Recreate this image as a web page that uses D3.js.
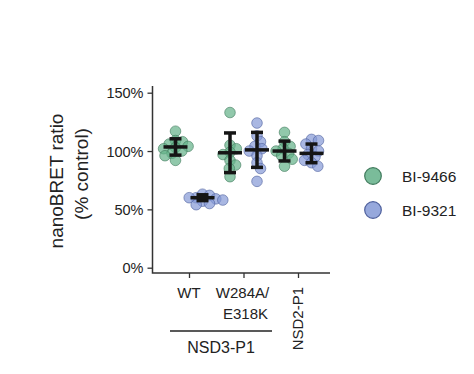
<!DOCTYPE html>
<html>
  <head>
    <meta charset="utf-8">
    <title>nanoBRET ratio</title>
    <script src="https://d3js.org/d3.v7.min.js"></script>
    <style>
      body { margin: 0; background: #fff; }
      text { font-family: "Liberation Sans", Arial, sans-serif; fill: #222; }
    </style>
  </head>
  <body>
    <svg id="chart" width="474" height="374"></svg>
    <script>
      // data
      var categories = ["WT", "W284A/E318K", "NSD2-P1"];
      var compounds = ["BI-9466", "BI-9321"];
      var yTicks = [0, 50, 100, 150];
      var greenValues = [
        [117, 109, 108, 106, 104, 103, 102, 100, 98, 96, 92],
        [133, 105, 102, 99, 97, 92, 88, 85, 78],
        [116, 108, 104, 102, 100, 98, 96, 93, 87]
      ];
      var blueValues = [
        [63, 62, 60, 60, 59, 58, 57, 55, 54],
        [124, 113, 108, 104, 102, 100, 96, 90, 85, 74],
        [110, 109, 106, 102, 100, 97, 95, 92, 90, 87]
      ];
      var greenMean = [103.5, 98.5, 100];
      var greenSd = [7, 17, 8.5];
      var blueMean = [60, 101, 98];
      var blueSd = [2.5, 15, 8];

      var colours = { "BI-9466": "#63b088", "BI-9321": "#8499d6" };
      var strokes = { "BI-9466": "#3f7a5c", "BI-9321": "#4d5f9c" };

      var svg = d3.select("#chart");
      var x = d3.scalePoint().domain(categories).range([189, 298]);
      var y = d3.scaleLinear().domain([0, 150]).range([267.7, 92.7]);
      var dodge = 13.5;
      var r = 5.3;

      // axes
      var yAxis = d3.axisLeft(y).tickValues(yTicks).tickSize(5)
        .tickFormat(function(d) { return d + "%"; });
      var yG = svg.append("g").attr("transform", "translate(152.5,0)").call(yAxis);
      yG.select(".domain").remove();
      yG.selectAll("line").attr("stroke", "#333").attr("stroke-width", 1.3);
      yG.selectAll("text").style("font-size", "14.5px").attr("x", -9).attr("dy", "0.36em");

      var xAxis = d3.axisBottom(x).tickSize(5).tickFormat("");
      var xG = svg.append("g").attr("transform", "translate(0,273)").call(xAxis);
      xG.select(".domain").remove();
      xG.selectAll("line").attr("stroke", "#333").attr("stroke-width", 1.3);

      svg.append("path")
        .attr("d", "M152.5,86V273H330")
        .attr("fill", "none").attr("stroke", "#333").attr("stroke-width", 1.5);

      // beeswarm placement, points may overlap a little
      function swarm(values, cx) {
        var placed = [];
        values.slice().sort(d3.descending).forEach(function(v) {
          var cy = y(v), best = null;
          for (var k = 0; k <= 30; k++) {
            var cands = k === 0 ? [0] : [k * 0.7, -k * 0.7];
            for (var c = 0; c < cands.length; c++) {
              var ok = placed.every(function(p) {
                var dx = p.x - (cx + cands[c]), dy = p.y - cy;
                return dx * dx + dy * dy >= 6.8 * 6.8;
              });
              if (ok) { best = cx + cands[c]; break; }
            }
            if (best !== null) break;
          }
          placed.push({ x: best === null ? cx : best, y: cy });
        });
        return placed;
      }

      var groups = [
        { name: "BI-9466", values: greenValues, mean: greenMean, sd: greenSd, off: -dodge },
        { name: "BI-9321", values: blueValues, mean: blueMean, sd: blueSd, off: dodge }
      ];

      groups.forEach(function(g) {
        categories.forEach(function(cat, i) {
          var cx = x(cat) + g.off;
          svg.append("g").selectAll("circle")
            .data(swarm(g.values[i], cx))
            .enter().append("circle")
              .attr("cx", function(d) { return d.x; })
              .attr("cy", function(d) { return d.y; })
              .attr("r", r)
              .attr("fill", colours[g.name])
              .attr("fill-opacity", 0.7)
              .attr("stroke", strokes[g.name])
              .attr("stroke-opacity", 0.6)
              .attr("stroke-width", 1);
        });
      });

      // mean and sd bars
      groups.forEach(function(g) {
        categories.forEach(function(cat, i) {
          var cx = x(cat) + g.off;
          var m = g.mean[i], s = g.sd[i];
          var eb = svg.append("g").attr("stroke", "#151515").attr("stroke-width", 3.5);
          eb.append("line").attr("x1", cx).attr("x2", cx).attr("y1", y(m + s)).attr("y2", y(m - s));
          eb.append("line").attr("x1", cx - 6).attr("x2", cx + 6).attr("y1", y(m + s)).attr("y2", y(m + s));
          eb.append("line").attr("x1", cx - 6).attr("x2", cx + 6).attr("y1", y(m - s)).attr("y2", y(m - s));
          eb.append("line").attr("x1", cx - 12).attr("x2", cx + 12).attr("y1", y(m)).attr("y2", y(m));
        });
      });

      // x labels
      svg.append("text").attr("x", x("WT")).attr("y", 298)
        .attr("text-anchor", "middle").style("font-size", "15px").text("WT");
      svg.append("text").attr("x", x("W284A/E318K") - 1).attr("y", 298)
        .attr("text-anchor", "middle").style("font-size", "15px").text("W284A/");
      svg.append("text").attr("x", x("W284A/E318K") + 2).attr("y", 319)
        .attr("text-anchor", "middle").style("font-size", "15px").text("E318K");
      svg.append("text")
        .attr("transform", "translate(" + (x("NSD2-P1") + 5) + ",287) rotate(-90)")
        .attr("text-anchor", "end").style("font-size", "15px").text("NSD2-P1");
      svg.append("line").attr("x1", 170).attr("x2", 272).attr("y1", 331).attr("y2", 331)
        .attr("stroke", "#222").attr("stroke-width", 1.3);
      svg.append("text").attr("x", 221).attr("y", 353)
        .attr("text-anchor", "middle").style("font-size", "16px").text("NSD3-P1");

      // y label
      svg.append("text")
        .attr("transform", "translate(63,181) rotate(-90)")
        .attr("text-anchor", "middle").style("font-size", "19px").text("nanoBRET ratio");
      svg.append("text")
        .attr("transform", "translate(88,174) rotate(-90)")
        .attr("text-anchor", "middle").style("font-size", "19px").text("(% control)");

      // legend
      var legend = svg.append("g").selectAll("g")
        .data(compounds)
        .enter().append("g")
          .attr("transform", function(d, i) { return "translate(373," + (176 + i * 34) + ")"; });
      legend.append("circle").attr("r", 8.3)
        .attr("fill", function(d) { return colours[d]; })
        .attr("fill-opacity", 0.85)
        .attr("stroke", function(d) { return strokes[d]; })
        .attr("stroke-width", 1.2);
      legend.append("text").attr("x", 29).attr("dy", "0.36em")
        .style("font-size", "15.5px").text(function(d) { return d; });
    </script>
  </body>
</html>
